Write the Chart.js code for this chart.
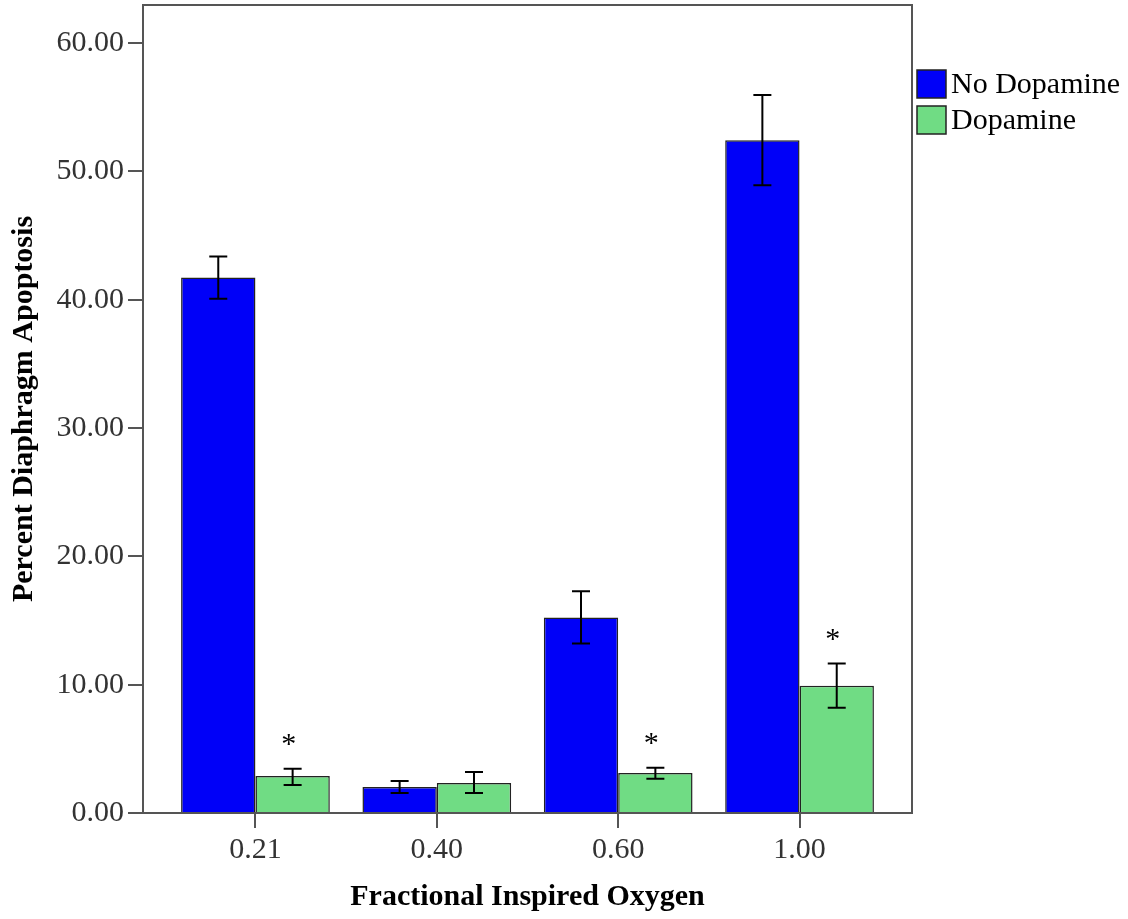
<!DOCTYPE html>
<html>
<head>
<meta charset="utf-8">
<script src="https://cdn.jsdelivr.net/npm/chart.js@4/dist/chart.umd.min.js"></script>
<style>
  html, body { margin: 0; padding: 0; background: #fff; }
  #wrap { width: 1128px; height: 919px; }
</style>
</head>
<body>
<div id="wrap"><canvas id="c" width="1128" height="919"></canvas></div>
<script>
const categories = ['0.21', '0.40', '0.60', '1.00'];
const seriesNames = ['No Dopamine', 'Dopamine'];
const noDopamine = [41.72, 2.03, 15.23, 52.42];
const noDopErrLow = [40.08, 1.56, 13.20, 48.91];
const noDopErrHigh = [43.36, 2.50, 17.27, 55.94];
const dopamine = [2.89, 2.34, 3.125, 9.92];
const dopErrLow = [2.19, 1.56, 2.66, 8.20];
const dopErrHigh = [3.44, 3.20, 3.52, 11.64];
const significant = [true, false, true, true];
const yTicks = [0, 10, 20, 30, 40, 50, 60];

const AXIS = '#555555';
const SERIF = '"Liberation Serif", "Times New Roman", serif';

const errors = [
  { low: noDopErrLow, high: noDopErrHigh },
  { low: dopErrLow, high: dopErrHigh }
];

const errorBarPlugin = {
  id: 'errorBars',
  afterDatasetsDraw(chart) {
    const ctx = chart.ctx;
    const y = chart.scales.y;
    ctx.save();
    ctx.strokeStyle = '#000';
    ctx.lineWidth = 2;
    chart.data.datasets.forEach((ds, di) => {
      const meta = chart.getDatasetMeta(di);
      meta.data.forEach((bar, i) => {
        const x = bar.x;
        const yl = y.getPixelForValue(errors[di].low[i]);
        const yh = y.getPixelForValue(errors[di].high[i]);
        ctx.beginPath();
        ctx.moveTo(x, yl); ctx.lineTo(x, yh);
        ctx.moveTo(x - 9, yl); ctx.lineTo(x + 9, yl);
        ctx.moveTo(x - 9, yh); ctx.lineTo(x + 9, yh);
        ctx.stroke();
      });
    });
    const meta = chart.getDatasetMeta(1);
    ctx.fillStyle = '#000';
    ctx.font = '30px ' + SERIF;
    ctx.textAlign = 'center';
    ctx.textBaseline = 'alphabetic';
    meta.data.forEach((bar, i) => {
      if (!significant[i]) return;
      const yh = y.getPixelForValue(dopErrHigh[i]);
      ctx.fillText('*', bar.x - 4, yh - 16);
    });
    ctx.restore();
  }
};

const framePlugin = {
  id: 'frame',
  afterDraw(chart) {
    const { left, right, top, bottom } = chart.chartArea;
    const ctx = chart.ctx;
    ctx.save();
    ctx.strokeStyle = AXIS;
    ctx.lineWidth = 2;
    ctx.beginPath();
    ctx.moveTo(left, top); ctx.lineTo(right, top); ctx.lineTo(right, bottom);
    ctx.stroke();
    ctx.restore();
  }
};

const legendPlugin = {
  id: 'customLegend',
  afterDraw(chart) {
    const ctx = chart.ctx;
    const x0 = chart.chartArea.right + 5;
    let y0 = 70;
    ctx.save();
    chart.data.datasets.forEach((ds) => {
      ctx.fillStyle = ds.backgroundColor;
      ctx.fillRect(x0, y0, 29, 28);
      ctx.strokeStyle = '#222';
      ctx.lineWidth = 1.5;
      ctx.strokeRect(x0, y0, 29, 28);
      ctx.fillStyle = '#000';
      ctx.font = '30px ' + SERIF;
      ctx.textAlign = 'left';
      ctx.textBaseline = 'middle';
      ctx.fillText(ds.label, x0 + 34, y0 + 15);
      y0 += 36;
    });
    ctx.restore();
  }
};

new Chart(document.getElementById('c'), {
  type: 'bar',
  data: {
    datasets: [
      {
        label: seriesNames[0],
        data: noDopamine.map((v, i) => ({ x: i, y: v })),
        backgroundColor: '#0000F8',
        borderColor: '#222',
        borderWidth: 1.5,
        categoryPercentage: 0.82,
        barPercentage: 1.0
      },
      {
        label: seriesNames[1],
        data: dopamine.map((v, i) => ({ x: i, y: v })),
        backgroundColor: '#70DC84',
        borderColor: '#222',
        borderWidth: 1.5,
        categoryPercentage: 0.82,
        barPercentage: 1.0
      }
    ]
  },
  options: {
    responsive: false,
    animation: false,
    layout: { padding: { left: 0, top: 5, right: 216, bottom: 0 } },
    plugins: {
      legend: { display: false },
      tooltip: { enabled: false }
    },
    scales: {
      x: {
        type: 'linear',
        min: -0.62,
        max: 3.62,
        offset: false,
        afterBuildTicks(scale) { scale.ticks = categories.map((c, i) => ({ value: i })); },
        afterFit(scale) { scale.height = 106; scale.paddingLeft = 0; scale.paddingRight = 0; },
        grid: { drawOnChartArea: false, drawTicks: true, tickLength: 15, color: AXIS, lineWidth: 2, offset: false },
        border: { display: true, color: AXIS, width: 2 },
        ticks: {
          callback: (v) => categories[v],
          color: '#333',
          padding: 4,
          maxRotation: 0,
          autoSkip: false,
          font: { family: SERIF, size: 30 }
        },
        title: {
          display: true,
          text: 'Fractional Inspired Oxygen',
          color: '#000',
          font: { family: SERIF, size: 30, weight: 'bold', lineHeight: 1.2 },
          padding: { top: 0, bottom: 4 }
        }
      },
      y: {
        min: 0,
        max: 62.96,
        afterBuildTicks(scale) { scale.ticks = yTicks.map(v => ({ value: v })); },
        afterFit(scale) { scale.width = 143; scale.paddingTop = 0; scale.paddingBottom = 0; },
        grid: { drawOnChartArea: false, drawTicks: true, tickLength: 15, color: AXIS, lineWidth: 2 },
        border: { display: true, color: AXIS, width: 2 },
        ticks: {
          callback: (v) => v.toFixed(2),
          color: '#333',
          padding: 4,
          font: { family: SERIF, size: 30 }
        },
        title: {
          display: true,
          text: 'Percent Diaphragm Apoptosis',
          color: '#000',
          font: { family: SERIF, size: 30, weight: 'bold', lineHeight: 1.2 },
          padding: { top: 6, bottom: 0 }
        }
      }
    }
  },
  plugins: [errorBarPlugin, framePlugin, legendPlugin]
});
</script>
</body>
</html>
